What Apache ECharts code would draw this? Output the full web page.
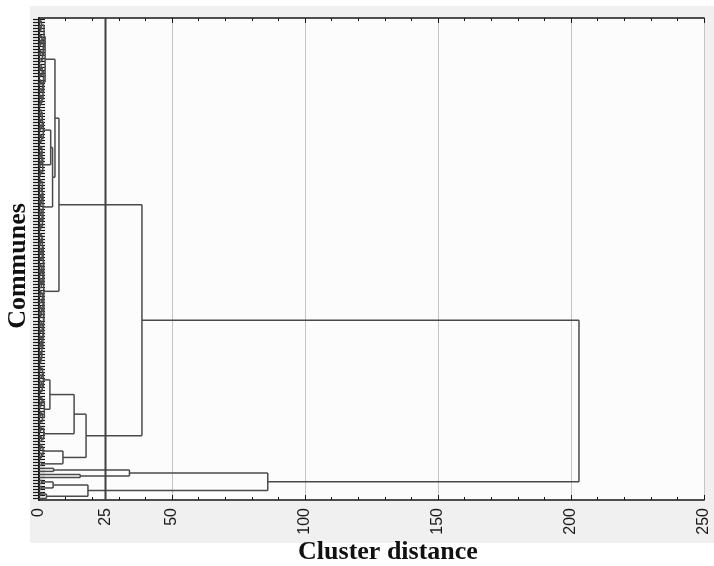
<!DOCTYPE html>
<html>
<head>
<meta charset="utf-8">
<script src="https://cdn.jsdelivr.net/npm/echarts@6/dist/echarts.min.js"></script>
<style>
  html, body { margin: 0; padding: 0; background: #ffffff; }
  #chart { width: 714px; height: 566px; }
</style>
</head>
<body>
<div id="chart"></div>
<script>
// Tree nodes are written as [mergeDistance, left, right]; a 0 is a single commune.

// small low-level blocks of communes
const b1 = [1.1, [0.5, 0, 0], [0.7, 0, [0.3, 0, 0]]];
const b2 = [1.3, [0.6, 0, [0.2, 0, 0]], [0.9, 0, 0]];
const b3 = [0.9, [0.4, 0, 0], [0.6, [0.3, 0, 0], 0]];
const b4 = [1.2, [0.8, 0, [0.4, 0, 0]], [0.5, 0, 0]];
const t1 = [0.7, 0, [0.35, 0, 0]];
const d1 = [0.45, 0, 0];

// upper branch
const q1 = [2.3, [1.9, b3, [1.6, b1, b2]], [1.7, b4, [1.5, b2, b1]]];
const q2a1 = [1.6, [1.2, b4, t1], [1.0, d1, [0.6, 0, 0]]];
const q2a2 = [1.4, [1.1, b1, t1], t1];
const q2b = [1.5, [1.2, b2, b3], [1.3, b4, t1]];
const r = [1.8, [1.6, [1.3, b1, b4], [1.4, b3, [0.9, t1, 0]]],
                [1.7, [1.5, b2, b3], [1.45, b4, [1.1, b1, b3]]]];
const q2a = [4.4, q2a1, q2a2];
const q2 = [5.1, q2a, q2b];
const q = [6.0, q1, q2];
const p = [7.5, q, r];

// middle branch
const s1a = [4.1, [1.6, b2, b4], [2.0, b1, [1.3, t1, d1]]];
const s1b = [1.8, t1, [1.0, d1, 0]];
const s1 = [13.2, s1a, s1b];
const s2 = [9.0, [1.5, t1, [0.9, 0, d1]], [1.0, 0, 0]];
const s = [17.7, s1, s2];

// lower branch
const t1a = [5.5, 0, 0];
const t1b = [15.5, 0, 0];
const t2a = [5.3, [1.0, 0, 0], [0.8, 0, 0]];
const t2b = [2.8, [0.6, 0, 0], 0];
const tBranch = [86.0, [34.0, t1a, t1b], [18.4, t2a, t2b]];

const root = [203.0, [38.7, p, s], tBranch];

// cut level drawn as a vertical reference line
const cutDistance = 25;

// distance axis labels
const xLabels = [0, 25, 50, 100, 150, 200, 250];

// walk the tree: leaves take consecutive rows, each merge sits midway between its children
let nextLeaf = 0;
const segments = [];
function place(node) {
  if (node === 0) return { pos: nextLeaf++, h: 0 };
  const [h, a, b] = node;
  const A = place(a);
  const B = place(b);
  segments.push([A.h, A.pos, h, A.pos]);
  segments.push([B.h, B.pos, h, B.pos]);
  segments.push([h, A.pos, h, B.pos]);
  return { pos: (A.pos + B.pos) / 2, h: h };
}
place(root);
const leafCount = nextLeaf;
const communes = Array.from({ length: leafCount }, (_, i) => 'C' + (i + 1));

const axisColor = '#161616';
const rowAxis = (position) => ({
  type: 'category',
  data: communes,
  inverse: true,
  position: position,
  boundaryGap: true,
  axisLine: { show: true, lineStyle: { color: axisColor, width: 1.6 } },
  axisTick: { show: true, inside: true, length: 6, interval: 0, alignWithLabel: true,
              lineStyle: { color: axisColor, width: 1.2 } },
  axisLabel: { show: false },
  splitLine: { show: false }
});

const chart = echarts.init(document.getElementById('chart'), null, { renderer: 'canvas' });
chart.setOption({
  animation: false,
  backgroundColor: '#ffffff',
  graphic: [
    { type: 'rect', left: 30, top: 6, z: -100, silent: true,
      shape: { width: 684, height: 537 }, style: { fill: '#f0f0f0' } },
    { type: 'text', x: 388, y: 552, z: 10,
      style: { text: 'Cluster distance', font: 'bold 26px "Liberation Serif", serif',
               fill: '#111', textAlign: 'center', textVerticalAlign: 'middle' } },
    { type: 'text', x: 18, y: 266, rotation: Math.PI / 2, z: 10,
      style: { text: 'Communes', font: 'bold 26px "Liberation Serif", serif',
               fill: '#111', textAlign: 'center', textVerticalAlign: 'middle' } }
  ],
  grid: { left: 39, right: 10, top: 18, bottom: 66, show: true,
          backgroundColor: '#fcfcfc', borderWidth: 0 },
  xAxis: [
    { type: 'value', min: 0, max: 250, interval: 50, position: 'bottom',
      axisLine: { show: true, onZero: false, lineStyle: { color: axisColor, width: 1.6 } },
      axisTick: { show: true, inside: true, length: 5, lineStyle: { color: axisColor } },
      minorTick: { show: true, splitNumber: 5, length: 3, lineStyle: { color: axisColor } },
      axisLabel: { customValues: xLabels, rotate: 90, margin: 8, fontSize: 16,
                   fontFamily: '"Liberation Sans", Arial, sans-serif', color: '#1a1a1a' },
      splitLine: { show: true, lineStyle: { color: '#c4c4c4', width: 1 } },
      minorSplitLine: { show: false } },
    { type: 'value', min: 0, max: 250, interval: 50, position: 'top',
      axisLine: { show: true, onZero: false, lineStyle: { color: axisColor, width: 1.6 } },
      axisTick: { show: true, inside: true, length: 5, lineStyle: { color: axisColor } },
      minorTick: { show: true, splitNumber: 5, length: 3, lineStyle: { color: axisColor } },
      axisLabel: { show: false },
      splitLine: { show: false } }
  ],
  yAxis: [
    rowAxis('left'),
    rowAxis('right'),
    { type: 'value', min: -0.5, max: leafCount - 0.5, inverse: true, show: false }
  ],
  series: [
    {
      type: 'custom',
      xAxisIndex: 0,
      yAxisIndex: 2,
      data: segments,
      encode: { x: [0, 2], y: [1, 3] },
      renderItem: function (params, api) {
        const a = api.coord([api.value(0), api.value(1)]);
        const b = api.coord([api.value(2), api.value(3)]);
        return {
          type: 'line',
          shape: { x1: a[0], y1: a[1], x2: b[0], y2: b[1] },
          style: { stroke: '#4a4a4a', lineWidth: 1.5 }
        };
      },
      z: 3
    },
    {
      type: 'line',
      xAxisIndex: 0,
      yAxisIndex: 2,
      data: [[cutDistance, -0.5], [cutDistance, leafCount - 0.5]],
      symbol: 'none',
      lineStyle: { color: '#404040', width: 2 },
      z: 4
    }
  ]
});
</script>
</body>
</html>
